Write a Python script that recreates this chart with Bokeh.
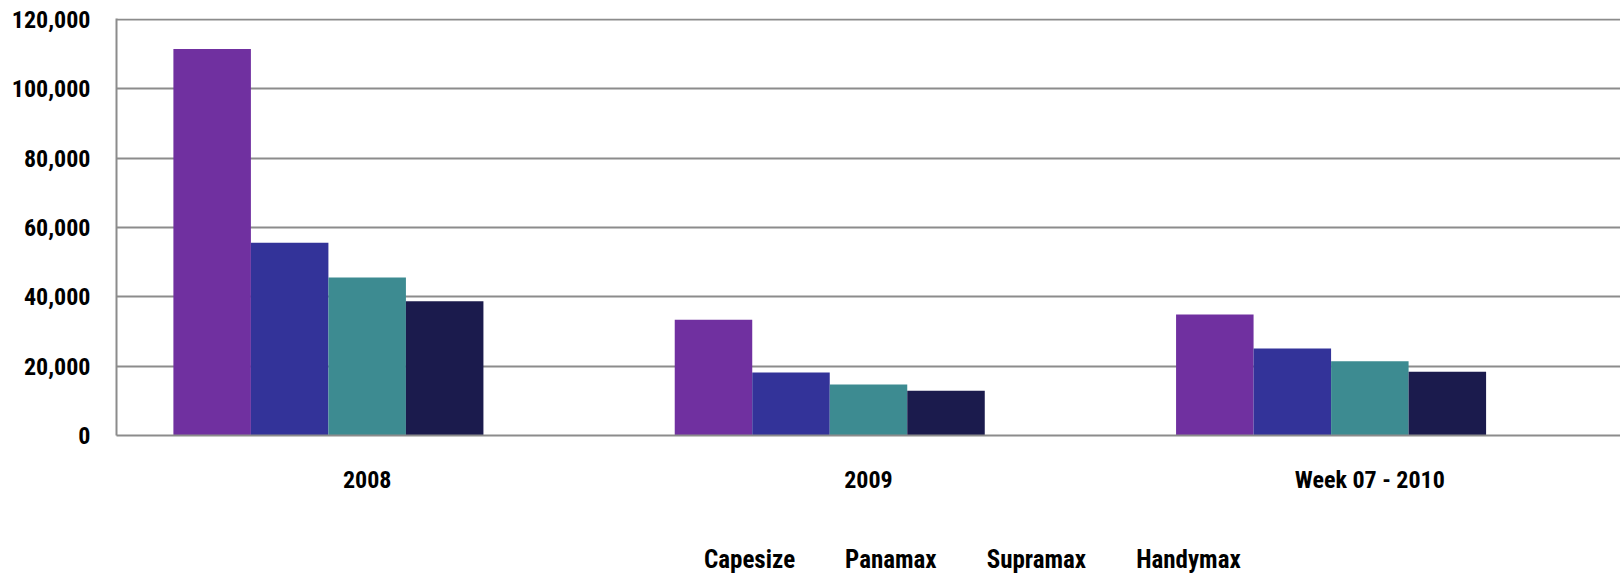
from bokeh.plotting import figure
from bokeh.layouts import column
from bokeh.models import (ColumnDataSource, Range1d, FactorRange, FixedTicker,
                          NumeralTickFormatter, Legend, LegendItem)
from bokeh.transform import dodge
from bokeh.embed import file_html
from bokeh.resources import INLINE

# Average time-charter earnings by vessel class (USD/day)
periods = ["2008", "2009", "Week 07 - 2010"]
capesize = [111500, 33400, 34900]
panamax = [55600, 18200, 25100]
supramax = [45600, 14700, 21400]
handymax = [38700, 12900, 18400]

series_names = ["Capesize", "Panamax", "Supramax", "Handymax"]
series_colors = ["#7030A0", "#333399", "#3D8B91", "#1B1B4D"]
y_ticks = [0, 20000, 40000, 60000, 80000, 100000, 120000]

FONT = ("'Liberation Sans Narrow', 'Arial Narrow', 'Roboto Condensed', "
        "'DejaVu Sans Condensed', 'Liberation Sans', sans-serif")

source = ColumnDataSource(data=dict(
    period=periods,
    Capesize=capesize,
    Panamax=panamax,
    Supramax=supramax,
    Handymax=handymax,
))

p = figure(
    x_range=FactorRange(*periods, range_padding=0),
    # a hair of headroom so the 120,000 gridline is drawn
    y_range=Range1d(0, 120300),
    frame_width=1504, frame_height=417,
    min_border_left=116, min_border_right=0,
    min_border_top=18, min_border_bottom=74,
    output_backend="svg", toolbar_location=None,
    background_fill_color="white", border_fill_color="white",
)
p.outline_line_color = None

# five bar slots per category; the fifth stays empty
bar_w = 0.1546
offsets = [-2 * bar_w, -bar_w, 0.0, bar_w]
for name, color, off in zip(series_names, series_colors, offsets):
    p.vbar(x=dodge("period", off, range=p.x_range), top=name, width=bar_w,
           bottom=0, source=source, fill_color=color, line_color=None)

# gridlines
p.xgrid.grid_line_color = None
p.ygrid.grid_line_color = "#8C8C8C"
p.ygrid.grid_line_width = 2
p.ygrid.ticker = FixedTicker(ticks=y_ticks)

# y axis
p.yaxis.ticker = FixedTicker(ticks=y_ticks)
p.yaxis.formatter = NumeralTickFormatter(format="0,0")
p.yaxis.axis_line_color = "#8C8C8C"
p.yaxis.axis_line_width = 2
p.yaxis.major_tick_line_color = None
p.yaxis.minor_tick_line_color = None
p.yaxis.major_tick_out = 0
p.yaxis.major_label_standoff = 26
p.yaxis.major_label_text_font = FONT
p.yaxis.major_label_text_font_style = "bold"
p.yaxis.major_label_text_font_size = "24px"
p.yaxis.major_label_text_color = "black"

# x axis
p.xaxis.axis_line_color = "#8C8C8C"
p.xaxis.axis_line_width = 2
p.xaxis.major_tick_line_color = None
p.xaxis.minor_tick_line_color = None
p.xaxis.major_tick_out = 0
p.xaxis.major_label_standoff = 30
p.xaxis.major_label_text_font = FONT
p.xaxis.major_label_text_font_style = "bold"
p.xaxis.major_label_text_font_size = "24px"
p.xaxis.major_label_text_color = "black"

# legend strip under the chart: swatch-only renderers carrying the series colours
q = figure(
    width=1620, height=65,
    x_axis_type=None, y_axis_type=None,
    min_border_left=0, min_border_right=0, min_border_top=0, min_border_bottom=0,
    output_backend="svg", toolbar_location=None,
    background_fill_color="white", border_fill_color="white",
)
q.outline_line_color = None
for g in q.grid:
    g.visible = False

swatch_src = ColumnDataSource(data=dict(x=[], top=[]))
items = []
for name, color in zip(series_names, series_colors):
    r = q.vbar(x="x", top="top", width=0.5, source=swatch_src,
               fill_color=color, line_color=None)
    items.append(LegendItem(label=name, renderers=[r]))

legend = Legend(
    items=items,
    orientation="horizontal",
    location=(567, 0),
    padding=0, margin=0, spacing=29,
    glyph_width=14, glyph_height=14, label_standoff=7,
    label_text_font=FONT, label_text_font_style="bold",
    label_text_font_size="25px", label_text_color="black",
    border_line_color=None, background_fill_alpha=0,
)
q.add_layout(legend, "center")

layout = column(p, q, spacing=0)

open("out.html", "w").write(file_html(layout, INLINE))
